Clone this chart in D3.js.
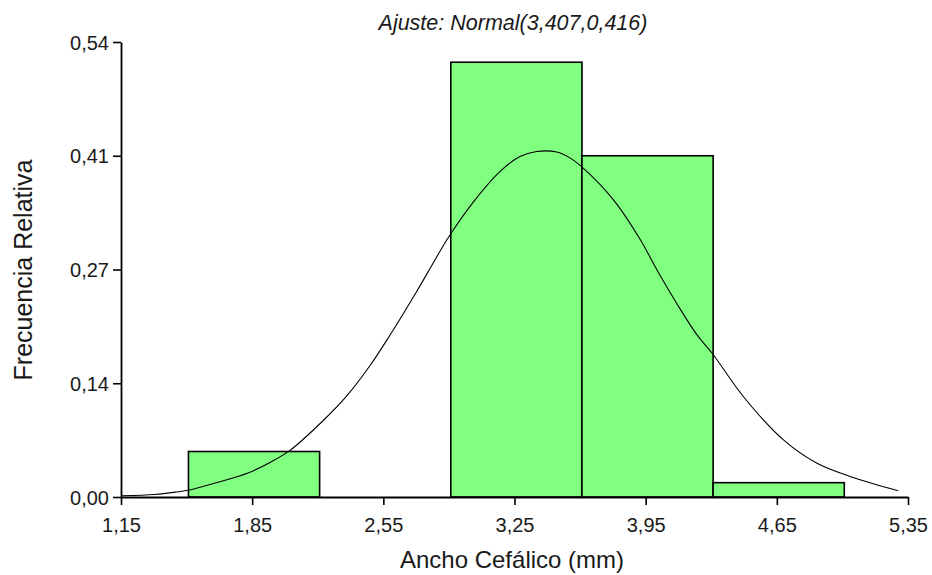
<!DOCTYPE html>
<html><head><meta charset="utf-8">
<script src="https://cdn.jsdelivr.net/npm/d3@7"></script>
<style>
html,body{margin:0;padding:0;background:#fff;}
svg{display:block;font-family:"Liberation Sans",Arial,sans-serif;}
</style></head>
<body>
<svg id="chart" width="932" height="575"></svg>
<script>
// ---- data ----
const binStarts = [1.51, 2.21, 2.91, 3.61, 4.31];
const binEnds   = [2.21, 2.91, 3.61, 4.31, 5.01];
const relFreq   = [0.054, 0, 0.516, 0.405, 0.017];

const curveX = [1.155,1.331,1.454,1.508,1.652,1.828,1.955,2.052,2.221,2.355,2.479,2.585,2.728,2.817,2.897,3.030,3.172,3.279,3.368,3.475,3.546,3.608,3.777,3.920,4.009,4.115,4.222,4.307,4.471,4.684,4.862,5.040,5.298];
const curveY = [0.0015,0.0030,0.0062,0.0080,0.0166,0.0285,0.0422,0.0553,0.0890,0.1200,0.1560,0.1920,0.2440,0.2780,0.3080,0.3500,0.3862,0.4040,0.4100,0.4095,0.4025,0.3921,0.3530,0.3060,0.2700,0.2300,0.1930,0.1700,0.1193,0.0680,0.0403,0.0244,0.0075];

const xTicks = [1.15, 1.85, 2.55, 3.25, 3.95, 4.65, 5.35];
const xTickLabels = ["1,15","1,85","2,55","3,25","3,95","4,65","5,35"];
const yTicks = [0, 0.135, 0.27, 0.405, 0.54];
const yTickLabels = ["0,00","0,14","0,27","0,41","0,54"];

const titleText = "Ajuste: Normal(3,407,0,416)";
const xTitle = "Ancho Cefálico (mm)";
const yTitle = "Frecuencia Relativa";

// ---- chart ----
const svg = d3.select("#chart");
const x = d3.scaleLinear().domain([1.15, 5.35]).range([121, 908]);
const y = d3.scaleLinear().domain([0, 0.54]).range([497, 42]);

const bins = binStarts.map((s, i) => ({x0: s, x1: binEnds[i], v: relFreq[i]})).filter(d => d.v > 0);

svg.append("g").selectAll("rect").data(bins).join("rect")
  .attr("x", d => x(d.x0))
  .attr("y", d => y(d.v))
  .attr("width", d => x(d.x1) - x(d.x0))
  .attr("height", d => y(0) - y(d.v))
  .attr("fill", "#80FF80")
  .attr("stroke", "#000")
  .attr("stroke-width", 1.6);

const pts = curveX.map((v, i) => [v, curveY[i]]);
svg.append("path")
  .datum(pts)
  .attr("fill", "none")
  .attr("stroke", "#000")
  .attr("stroke-width", 1.1)
  .attr("d", d3.line().x(d => x(d[0])).y(d => y(d[1])).curve(d3.curveCatmullRom.alpha(0.5)));

// axes
const xAxis = svg.append("g").attr("transform", "translate(0,497)")
  .call(d3.axisBottom(x).tickValues(xTicks).tickSize(8).tickSizeOuter(0)
    .tickFormat((d, i) => xTickLabels[i]));
const yAxis = svg.append("g").attr("transform", "translate(121,0)")
  .call(d3.axisLeft(y).tickValues(yTicks).tickSize(8).tickSizeOuter(0)
    .tickFormat((d, i) => yTickLabels[i]));

[xAxis, yAxis].forEach(g => {
  g.selectAll("path.domain").attr("stroke", "#000").attr("stroke-width", 1.8);
  g.selectAll(".tick line").attr("stroke", "#000").attr("stroke-width", 1.6);
  g.selectAll(".tick text").attr("fill", "#1a1a1a").attr("font-size", 20)
    .attr("font-family", "'Liberation Sans', Arial, sans-serif");
});
xAxis.selectAll(".tick text").attr("dy", null).attr("y", 35);
yAxis.selectAll(".tick text").attr("x", -12).attr("dy", "0.36em");

// title
svg.append("text")
  .attr("x", 513).attr("y", 30)
  .attr("text-anchor", "middle")
  .attr("font-size", 21.5).attr("font-style", "italic").attr("fill", "#1a1a1a")
  .text(titleText);

svg.append("text")
  .attr("x", 512).attr("y", 568)
  .attr("text-anchor", "middle")
  .attr("font-size", 24).attr("fill", "#1a1a1a")
  .text(xTitle);

svg.append("text")
  .attr("transform", "translate(32,270) rotate(-90)")
  .attr("text-anchor", "middle")
  .attr("font-size", 25).attr("fill", "#1a1a1a")
  .text(yTitle);
</script>
</body></html>
